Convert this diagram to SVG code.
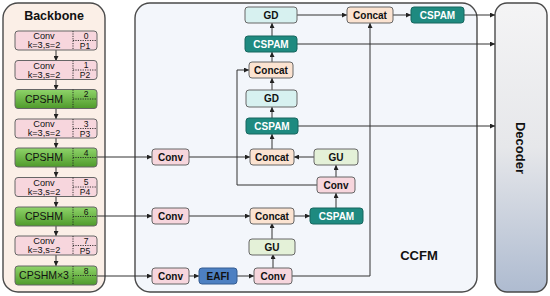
<svg xmlns="http://www.w3.org/2000/svg" width="550" height="296" viewBox="0 0 550 296">
<defs>
<linearGradient id="gGreen" x1="0" y1="0" x2="0" y2="1">
<stop offset="0" stop-color="#8fd46a"/><stop offset="1" stop-color="#4f9a2b"/>
</linearGradient>
<linearGradient id="gDec" x1="0" y1="0" x2="0" y2="1">
<stop offset="0" stop-color="#f4f4f5"/><stop offset="0.5" stop-color="#e6e7ea"/><stop offset="1" stop-color="#aebbd0"/>
</linearGradient>
<marker id="ah" viewBox="0 0 6 6" refX="6" refY="3" markerWidth="5" markerHeight="5" orient="auto" markerUnits="userSpaceOnUse">
<path d="M0,0 L6,3 L0,6 z" fill="#222"/>
</marker>
<style>
text{font-family:"Liberation Sans",Arial,sans-serif;}
.panel{stroke:#4a4a4a;stroke-width:1.4;}
.n{stroke:#666;stroke-width:1;}
.conv{fill:#f7d6dd;}
.green{fill:url(#gGreen);}
.cat{fill:#fbe3d1;}
.gd{fill:#d7f1f0;}
.gu{fill:#e4f1d8;}
.cspam{fill:#1e8a80;stroke:#17675f;}
.eafi{fill:#4d80c2;stroke:#345c92;}
.t{font-size:10.5px;text-anchor:middle;fill:#111;}
.t2{font-size:9.2px;text-anchor:middle;fill:#111;}
.tb{font-size:10px;font-weight:bold;text-anchor:middle;fill:#111;}
.tw{font-size:10px;font-weight:bold;text-anchor:middle;fill:#fff;}
.num{font-size:8.5px;text-anchor:middle;fill:#111;}
.dv{stroke:#222;stroke-width:0.9;stroke-dasharray:1.2,1.2;fill:none;}
.la{stroke:#333;stroke-width:1;fill:none;marker-end:url(#ah);}
</style>
</defs>

<g id="backbone-panel">
<rect class="panel" x="3" y="3" width="102" height="289" rx="15" fill="#fbefe7"/>
<text x="54" y="19.5" font-size="12.5" font-weight="bold" text-anchor="middle" fill="#111">Backbone</text>
</g>
<g id="ccfm-panel">
<rect class="panel" x="135" y="3" width="342" height="289" rx="15" fill="#f3f6fb"/>
<text x="419" y="260" font-size="13" font-weight="bold" text-anchor="middle" fill="#111">CCFM</text>
</g>
<g id="decoder">
<rect class="panel" x="495" y="3" width="52" height="289" rx="12" fill="url(#gDec)"/>
<text transform="translate(516,148) rotate(90)" font-size="13" font-weight="bold" text-anchor="middle" fill="#111">Decoder</text>
</g>

<g id="connectors">
<line class="la" x1="56" y1="50" x2="56" y2="61"/>
<line class="la" x1="56" y1="79" x2="56" y2="90"/>
<line class="la" x1="56" y1="108" x2="56" y2="119"/>
<line class="la" x1="56" y1="138" x2="56" y2="148"/>
<line class="la" x1="56" y1="167" x2="56" y2="177"/>
<line class="la" x1="56" y1="196" x2="56" y2="207"/>
<line class="la" x1="56" y1="226" x2="56" y2="236"/>
<line class="la" x1="56" y1="255" x2="56" y2="266"/>
<line class="la" x1="97" y1="157" x2="152" y2="157"/>
<line class="la" x1="97" y1="216" x2="152" y2="216"/>
<line class="la" x1="97" y1="276" x2="152" y2="276"/>
<line class="la" x1="189" y1="157" x2="250" y2="157"/>
<line class="la" x1="314" y1="157" x2="294" y2="157"/>
<line class="la" x1="336" y1="177" x2="336" y2="165"/>
<polyline class="la" points="317,185 237,185 237,70 249,70"/>
<line class="la" x1="272" y1="149" x2="272" y2="134"/>
<line class="la" x1="272" y1="118" x2="272" y2="107"/>
<line class="la" x1="272" y1="90" x2="272" y2="78"/>
<line class="la" x1="272" y1="62" x2="272" y2="52"/>
<line class="la" x1="272" y1="36" x2="272" y2="23"/>
<line class="la" x1="297" y1="15" x2="347" y2="15"/>
<line class="la" x1="393" y1="15" x2="411" y2="15"/>
<line class="la" x1="464" y1="15" x2="495" y2="15"/>
<line class="la" x1="297" y1="44" x2="495" y2="44"/>
<line class="la" x1="298" y1="126" x2="495" y2="126"/>
<polyline class="la" points="292,276 370,276 370,23"/>
<line class="la" x1="189" y1="276" x2="199" y2="276"/>
<line class="la" x1="237" y1="276" x2="254" y2="276"/>
<line class="la" x1="273" y1="268" x2="273" y2="254"/>
<line class="la" x1="272" y1="239" x2="272" y2="223"/>
<line class="la" x1="189" y1="216" x2="250" y2="216"/>
<line class="la" x1="294" y1="216" x2="310" y2="216"/>
<line class="la" x1="336" y1="208" x2="336" y2="193"/>
</g>

<g id="b0"><rect class="n conv" x="15" y="31" width="82" height="19" rx="3"/><line class="dv" x1="73" y1="31" x2="73" y2="50"/><line class="dv" x1="73" y1="40.5" x2="97" y2="40.5"/><text class="t2" x="44" y="39">Conv</text><text class="t2" x="44" y="48">k=3,s=2</text><text class="num" x="86" y="38.5">0</text><text class="num" x="85" y="48.5">P1</text></g>
<g id="b1"><rect class="n conv" x="15" y="60.5" width="82" height="19" rx="3"/><line class="dv" x1="73" y1="60.5" x2="73" y2="79.5"/><line class="dv" x1="73" y1="70" x2="97" y2="70"/><text class="t2" x="44" y="68.5">Conv</text><text class="t2" x="44" y="77.5">k=3,s=2</text><text class="num" x="86" y="68">1</text><text class="num" x="85" y="78">P2</text></g>
<g id="b2"><rect class="n green" x="15" y="89.5" width="82" height="19" rx="3"/><line class="dv" x1="73" y1="89.5" x2="73" y2="108.5"/><line class="dv" x1="73" y1="99" x2="97" y2="99"/><text class="t" x="44" y="102.7">CPSHM</text><text class="num" x="86" y="97">2</text></g>
<g id="b3"><rect class="n conv" x="15" y="119" width="82" height="19" rx="3"/><line class="dv" x1="73" y1="119" x2="73" y2="138"/><line class="dv" x1="73" y1="128.5" x2="97" y2="128.5"/><text class="t2" x="44" y="127">Conv</text><text class="t2" x="44" y="136">k=3,s=2</text><text class="num" x="86" y="126.5">3</text><text class="num" x="85" y="136.5">P3</text></g>
<g id="b4"><rect class="n green" x="15" y="148" width="82" height="19" rx="3"/><line class="dv" x1="73" y1="148" x2="73" y2="167"/><line class="dv" x1="73" y1="157.5" x2="97" y2="157.5"/><text class="t" x="44" y="161.2">CPSHM</text><text class="num" x="86" y="155.5">4</text></g>
<g id="b5"><rect class="n conv" x="15" y="177.5" width="82" height="19" rx="3"/><line class="dv" x1="73" y1="177.5" x2="73" y2="196.5"/><line class="dv" x1="73" y1="187" x2="97" y2="187"/><text class="t2" x="44" y="185.5">Conv</text><text class="t2" x="44" y="194.5">k=3,s=2</text><text class="num" x="86" y="185">5</text><text class="num" x="85" y="195">P4</text></g>
<g id="b6"><rect class="n green" x="15" y="207" width="82" height="19" rx="3"/><line class="dv" x1="73" y1="207" x2="73" y2="226"/><line class="dv" x1="73" y1="216.5" x2="97" y2="216.5"/><text class="t" x="44" y="220.2">CPSHM</text><text class="num" x="86" y="214.5">6</text></g>
<g id="b7"><rect class="n conv" x="15" y="236" width="82" height="19" rx="3"/><line class="dv" x1="73" y1="236" x2="73" y2="255"/><line class="dv" x1="73" y1="245.5" x2="97" y2="245.5"/><text class="t2" x="44" y="244">Conv</text><text class="t2" x="44" y="253">k=3,s=2</text><text class="num" x="86" y="243.5">7</text><text class="num" x="85" y="253.5">P5</text></g>
<g id="b8"><rect class="n green" x="15" y="266" width="82" height="19" rx="3"/><line class="dv" x1="73" y1="266" x2="73" y2="285"/><line class="dv" x1="73" y1="275.5" x2="97" y2="275.5"/><text class="t" x="44" y="279.2">CPSHM×3</text><text class="num" x="86" y="273.5">8</text></g>

<g id="gd-top"><rect class="n gd" x="245" y="7" width="52" height="16" rx="3"/><text class="tb" x="271" y="18.5">GD</text></g>
<g id="cspam-1"><rect class="n cspam" x="245" y="36" width="52" height="16" rx="3"/><text class="tw" x="271" y="47.5">CSPAM</text></g>
<g id="concat-up"><rect class="n cat" x="249" y="62" width="44" height="16" rx="3"/><text class="tb" x="271" y="73.5">Concat</text></g>
<g id="gd-2"><rect class="n gd" x="246" y="90" width="51" height="17" rx="3"/><text class="tb" x="271.5" y="102">GD</text></g>
<g id="cspam-2"><rect class="n cspam" x="246" y="118" width="52" height="16" rx="3"/><text class="tw" x="272" y="129.5">CSPAM</text></g>
<g id="concat-tr"><rect class="n cat" x="347" y="7" width="46" height="16" rx="3"/><text class="tb" x="370" y="18.5">Concat</text></g>
<g id="cspam-tr"><rect class="n cspam" x="411" y="7" width="53" height="16" rx="3"/><text class="tw" x="437.5" y="18.5">CSPAM</text></g>
<g id="conv-r4"><rect class="n conv" x="152" y="149" width="37" height="16" rx="3"/><text class="tb" x="170.5" y="160.5">Conv</text></g>
<g id="concat-r4"><rect class="n cat" x="250" y="149" width="44" height="16" rx="3"/><text class="tb" x="272" y="160.5">Concat</text></g>
<g id="gu-r4"><rect class="n gu" x="314" y="149" width="44" height="16" rx="3"/><text class="tb" x="336" y="160.5">GU</text></g>
<g id="conv-mid"><rect class="n conv" x="317" y="177" width="38" height="16" rx="3"/><text class="tb" x="336" y="188.5">Conv</text></g>
<g id="conv-r6"><rect class="n conv" x="152" y="208" width="37" height="16" rx="3"/><text class="tb" x="170.5" y="219.5">Conv</text></g>
<g id="concat-r6"><rect class="n cat" x="250" y="208" width="44" height="16" rx="3"/><text class="tb" x="272" y="219.5">Concat</text></g>
<g id="cspam-r6"><rect class="n cspam" x="310" y="208" width="53" height="16" rx="3"/><text class="tw" x="336.5" y="219.5">CSPAM</text></g>
<g id="gu-low"><rect class="n gu" x="249" y="239" width="46" height="16" rx="3"/><text class="tb" x="272" y="250.5">GU</text></g>
<g id="conv-r8"><rect class="n conv" x="152" y="268" width="37" height="16" rx="3"/><text class="tb" x="170.5" y="279.5">Conv</text></g>
<g id="eafi"><rect class="n eafi" x="199" y="268" width="38" height="16" rx="3"/><text class="tb" x="218" y="279.5">EAFI</text></g>
<g id="conv-bot"><rect class="n conv" x="254" y="268" width="38" height="16" rx="3"/><text class="tb" x="273" y="279.5">Conv</text></g>
</svg>
